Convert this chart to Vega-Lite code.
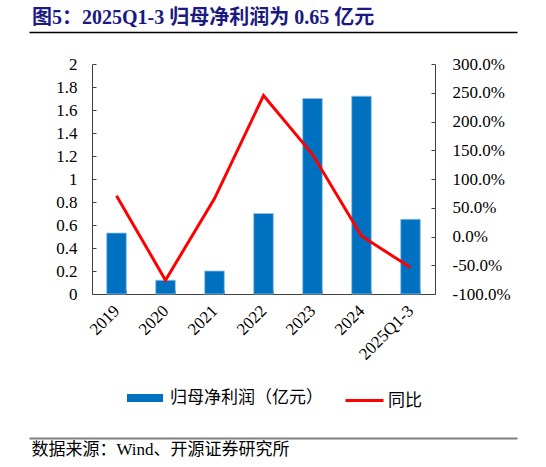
{
  "$schema": "https://vega.github.io/schema/vega-lite/v6.json",
  "width": 343,
  "height": 230,
  "autosize": {"type": "none"},
  "padding": {"left": 92, "top": 64, "right": 111, "bottom": 173},
  "background": "#ffffff",
  "config": {
    "view": {"stroke": null},
    "axis": {
      "labelFont": "Liberation Serif",
      "labelFontSize": 17,
      "labelColor": "#000000",
      "domainColor": "#404040",
      "tickColor": "#404040",
      "grid": false,
      "title": null
    }
  },
  "title": {
    "text": "图5：2025Q1-3 归母净利润为 0.65 亿元",
    "anchor": "start",
    "frame": "group",
    "dx": -60,
    "font": "Liberation Serif, Noto Sans CJK SC",
    "fontSize": 20,
    "fontWeight": "bold",
    "color": "#1a1a80"
  },
  "datasets": {
    "main": [
      {"period": "2019", "profit": 0.53, "yoy": 0.71},
      {"period": "2020", "profit": 0.12, "yoy": -0.76},
      {"period": "2021", "profit": 0.20, "yoy": 0.66},
      {"period": "2022", "profit": 0.70, "yoy": 2.45},
      {"period": "2023", "profit": 1.70, "yoy": 1.43},
      {"period": "2024", "profit": 1.72, "yoy": 0.01},
      {"period": "2025Q1-3", "profit": 0.65, "yoy": -0.54}
    ],
    "deco": [{"a": 0}, {"a": 1}]
  },
  "layer": [
    {
      "data": {"name": "main"},
      "mark": {"type": "bar", "stroke": "#8fc1ea", "strokeWidth": 0.8},
      "encoding": {
        "x": {
          "field": "period",
          "type": "nominal",
          "sort": null,
          "scale": {"paddingInner": 0.6, "paddingOuter": 0.3},
          "axis": {
            "labelAngle": -45,
            "labelAlign": "right",
            "labelBaseline": "middle",
            "tickBand": "extent",
            "tickSize": -4,
            "labelPadding": 18
          }
        },
        "y": {
          "field": "profit",
          "type": "quantitative",
          "scale": {"domain": [0, 2]},
          "axis": {
            "orient": "left",
            "values": [0, 0.2, 0.4, 0.6, 0.8, 1, 1.2, 1.4, 1.6, 1.8, 2],
            "format": ".1~f",
            "tickSize": -4,
            "labelPadding": 19
          }
        },
        "fill": {
          "datum": "归母净利润（亿元）",
          "scale": {"range": ["#0070C0"]},
          "legend": {
            "orient": "none",
            "legendX": 35,
            "legendY": 316,
            "title": null,
            "symbolType": "M-1,-0.22H1V0.22H-1Z",
            "symbolSize": 1296,
            "symbolStrokeWidth": 0,
            "labelFont": "Noto Sans CJK SC",
            "labelFontSize": 17,
            "labelColor": "#000000",
            "labelOffset": 7,
            "labelLimit": 300
          }
        }
      }
    },
    {
      "data": {"name": "main"},
      "mark": {"type": "line", "strokeWidth": 3},
      "encoding": {
        "x": {
          "field": "period",
          "type": "nominal",
          "sort": null,
          "scale": {"paddingInner": 0.6, "paddingOuter": 0.3},
          "axis": null
        },
        "y": {
          "field": "yoy",
          "type": "quantitative",
          "scale": {"domain": [-1, 3]},
          "axis": {
            "orient": "right",
            "values": [-1, -0.5, 0, 0.5, 1, 1.5, 2, 2.5, 3],
            "labelExpr": "replace(format(datum.value, '.1%'), '\u2212', '-')",
            "tickSize": -4,
            "labelPadding": 21
          }
        },
        "stroke": {
          "datum": "同比",
          "scale": {"range": ["#FF0000"]},
          "legend": {
            "orient": "none",
            "legendX": 252,
            "legendY": 316,
            "title": null,
            "symbolType": "stroke",
            "symbolSize": 1444,
            "symbolStrokeWidth": 3,
            "labelFont": "Noto Sans CJK SC",
            "labelFontSize": 17,
            "labelColor": "#000000",
            "labelOffset": 3
          }
        }
      }
    },
    {
      "data": {"name": "deco"},
      "mark": {"type": "point", "opacity": 0},
      "encoding": {
        "x": {
          "field": "a",
          "type": "quantitative",
          "scale": {"domain": [0, 1], "range": [-63, 425]},
          "axis": {
            "orient": "top",
            "offset": 32,
            "domainColor": "#000000",
            "domainWidth": 1.5,
            "ticks": false,
            "labels": false,
            "title": null
          }
        }
      }
    },
    {
      "data": {"name": "deco"},
      "mark": {"type": "point", "opacity": 0},
      "encoding": {
        "x": {
          "field": "a",
          "type": "quantitative",
          "scale": {"domain": [0, 1], "range": [-63, 425]},
          "axis": {
            "orient": "bottom",
            "offset": 144,
            "domainColor": "#808080",
            "domainWidth": 2,
            "ticks": false,
            "labels": false,
            "title": "数据来源：Wind、开源证券研究所",
            "titleAnchor": "start",
            "titleAlign": "left",
            "titleX": -61,
            "titleFont": "Liberation Serif, Noto Sans CJK SC",
            "titleFontSize": 17,
            "titleFontWeight": "normal",
            "titleColor": "#000000",
            "titlePadding": 3
          }
        }
      }
    }
  ],
  "resolve": {
    "scale": {"x": "independent", "y": "independent"},
    "axis": {"x": "independent", "y": "independent"}
  }
}
